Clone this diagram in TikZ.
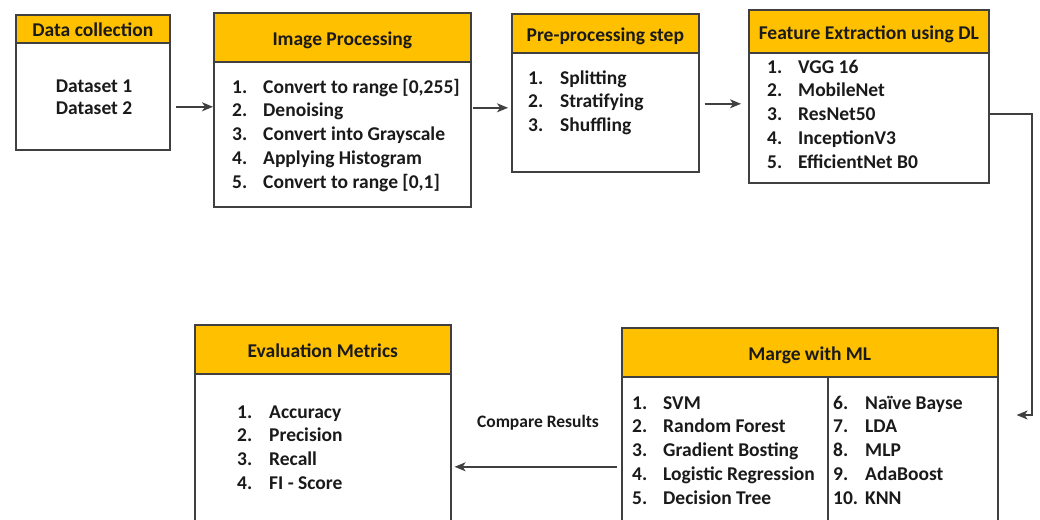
\documentclass[tikz,border=0pt]{standalone}
\usepackage{fontspec}
\setmainfont{Carlito}
\usetikzlibrary{arrows.meta}
\definecolor{gold}{HTML}{FFC000}
\definecolor{edge}{HTML}{404040}
\definecolor{ink}{HTML}{1A1A1A}

\tikzset{
  panel/.style={draw=edge, line width=1.6pt, fill=white, rectangle, inner sep=0pt, anchor=north west},
  head/.style={draw=edge, line width=1.6pt, fill=gold, rectangle, inner sep=0pt, anchor=north west,
    font=\bfseries\fontsize{19.5}{23}\selectfont, text=ink, text height=15.5pt, text depth=0pt},
  item/.style={inner sep=0pt, anchor=base west, font=\bfseries\fontsize{19.5}{23}\selectfont, text=ink},
  citem/.style={item, anchor=base},
  link/.style={draw=edge, line width=1.4pt},
  arr/.style={link, -{Stealth[length=11pt,width=9pt,inset=3pt]}},
  note/.style={inner sep=0pt, font=\bfseries\fontsize{17.5}{21}\selectfont, text=ink},
}

\begin{document}
\begin{tikzpicture}[x=1pt, y=-1pt]
\useasboundingbox (0,0) rectangle (1040,519);
\clip (0,0) rectangle (1040,519);

% ---- Data collection
\node[panel, minimum width=154pt, minimum height=135pt] (dc) at (15,14) {};
\node[head, minimum width=154pt, minimum height=28pt] (dch) at (15,14) {Data collection};
\node[citem] (dc1) at (94,92) {Dataset 1};
\node[citem] (dc2) at (94,114) {Dataset 2};

% ---- Image processing
\node[panel, minimum width=257pt, minimum height=194pt] (ip) at (213,12) {};
\node[head, minimum width=257pt, minimum height=49pt] (iph) at (213,12) {Image Processing};
\foreach \num/\txt [count=\i] in {1./{Convert to range [0,255]}, 2./Denoising,
    3./{Convert into Grayscale}, 4./{Applying Histogram}, 5./{Convert to range [0,1]}} {
  \node[item] (ipn\i) at (232,{93+(\i-1)*23.75}) {\num};
  \node[item] (ipt\i) at (263,{93+(\i-1)*23.75}) {\txt};
}

% ---- Pre-processing
\node[panel, minimum width=187pt, minimum height=158pt] (pp) at (511,13) {};
\node[head, minimum width=187pt, minimum height=39pt] (pph) at (511,13) {Pre-processing step};
\foreach \num/\txt [count=\i] in {1./Splitting, 2./Stratifying, 3./Shuffling} {
  \node[item] (ppn\i) at (528,{84+(\i-1)*23.5}) {\num};
  \node[item] (ppt\i) at (560,{84+(\i-1)*23.5}) {\txt};
}

% ---- Feature extraction
\node[panel, minimum width=240pt, minimum height=173pt] (fe) at (748,9) {};
\node[head, minimum width=240pt, minimum height=43pt] (feh) at (748,9) {Feature Extraction using DL};
\foreach \num/\txt [count=\i] in {1./{VGG 16}, 2./MobileNet, 3./ResNet50, 4./InceptionV3, 5./{EfficientNet B0}} {
  \node[item] (fen\i) at (767,{73+(\i-1)*23.75}) {\num};
  \node[item] (fet\i) at (798,{73+(\i-1)*23.75}) {\txt};
}

% ---- Evaluation metrics
\node[panel, minimum width=256pt, minimum height=210pt] (ev) at (194,324) {};
\node[head, minimum width=256pt, minimum height=49pt] (evh) at (194,324) {Evaluation Metrics};
\foreach \num/\txt [count=\i] in {1./Accuracy, 2./Precision, 3./Recall, 4./{FI - Score}} {
  \node[item] (evn\i) at (237,{418+(\i-1)*23.7}) {\num};
  \node[item] (evt\i) at (269,{418+(\i-1)*23.7}) {\txt};
}

% ---- Merge with ML (two columns)
\node[panel, minimum width=376pt, minimum height=210pt] (ml) at (621,327) {};
\node[head, minimum width=376pt, minimum height=49pt] (mlh) at (621,327) {Marge with ML};
\draw[link, line width=1.6pt] ([xshift=207pt]mlh.south west) -- ([xshift=207pt]ml.south west);
\foreach \num/\txt [count=\i] in {1./SVM, 2./{Random Forest}, 3./{Gradient Bosting},
    4./{Logistic Regression}, 5./{Decision Tree}} {
  \node[item] (mln\i) at (632,{409+(\i-1)*23.75}) {\num};
  \node[item] (mlt\i) at (663,{409+(\i-1)*23.75}) {\txt};
}
\foreach \num/\txt [count=\i] in {6./{Naïve Bayse}, 7./LDA, 8./MLP, 9./AdaBoost, 10./KNN} {
  \node[item] (mrn\i) at (833,{409+(\i-1)*23.75}) {\num};
  \node[item] (mrt\i) at (865,{409+(\i-1)*23.75}) {\txt};
}

% ---- Connectors
\draw[arr, shorten <=5pt] ([yshift=-24.5pt]dc.east) -- ([yshift=-24.5pt]dc.east -| ip.west);
\draw[arr, shorten <=1pt, shorten >=3pt] ([yshift=2pt]ip.east) -- ([yshift=2pt]ip.east -| pp.west);
\draw[arr, shorten <=5pt, shorten >=7pt] ([yshift=-11pt]pp.east) -- ([yshift=-11pt]pp.east -| fe.west);
\coordinate (turn) at (1032,415);
\draw[arr, shorten >=18pt] ([yshift=-17.5pt]fe.east) -| (turn) -- (turn -| ml.east);
\draw[arr, shorten <=4pt, shorten >=3pt] ([yshift=-34pt]ml.west) -- ([yshift=-34pt]ml.west -| ev.east);
\node[note] (cmp) at (538,423) {Compare Results};
\end{tikzpicture}
\end{document}
